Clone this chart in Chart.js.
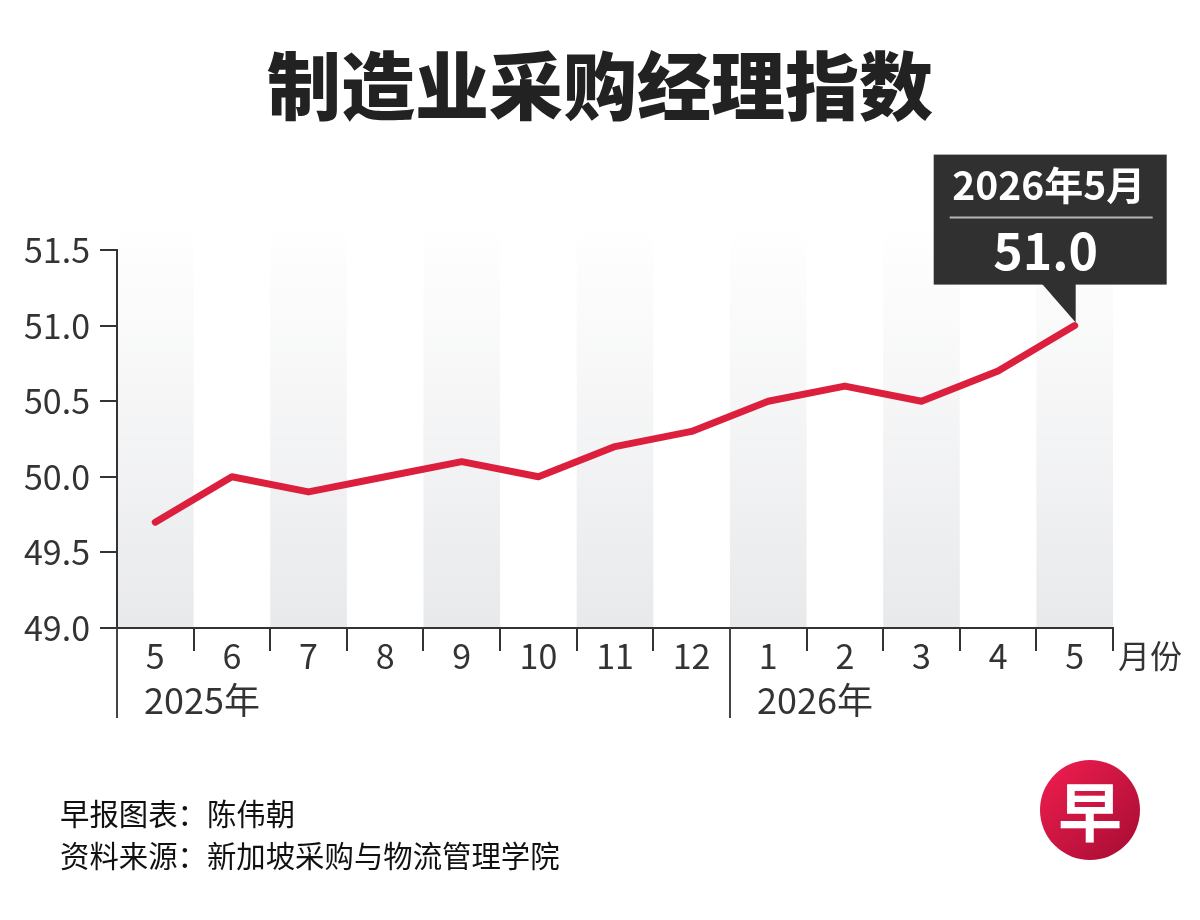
<!DOCTYPE html>
<html lang="zh">
<head>
<meta charset="utf-8">
<title>制造业采购经理指数</title>
<script src="https://cdn.jsdelivr.net/npm/chart.js@4.4.1/dist/chart.umd.min.js"></script>
<style>
  html, body { margin: 0; padding: 0; background: #fff; }
  #chart { display: block; }
</style>
</head>
<body>
<canvas id="chart" width="1200" height="920"></canvas>
<script>
const months = ['5', '6', '7', '8', '9', '10', '11', '12', '1', '2', '3', '4', '5'];
const pmi = [49.7, 50.0, 49.9, 50.0, 50.1, 50.0, 50.2, 50.3, 50.5, 50.6, 50.5, 50.7, 51.0];
const yearLabels = ['2025年', '2026年'];
const yearStarts = [0, 8];
const yTicks = [49.0, 49.5, 50.0, 50.5, 51.0, 51.5];
const calloutTitle = '2026年5月';
const title = '制造业采购经理指数';
const footer = ['早报图表：陈伟朝', '资料来源：新加坡采购与物流管理学院'];

const FONT = '"Noto Sans CJK SC", "Noto Sans", sans-serif';
const INK = '#333';

// columns, long year lines, texts, callout and logo
const decor = {
  id: 'decor',
  beforeDraw(chart) {
    const { ctx, chartArea: a, scales: { x } } = chart;
    const w = x.getPixelForValue(1) - x.getPixelForValue(0);
    const top = a.top - 28;
    const g = ctx.createLinearGradient(0, top, 0, a.bottom);
    g.addColorStop(0, 'rgba(234,235,237,0)');
    g.addColorStop(1, '#e8e9eb');
    ctx.save();
    ctx.fillStyle = g;
    months.forEach((m, i) => {
      if (i % 2) return;
      const cx = x.getPixelForValue(i);
      ctx.fillRect(cx - w / 2, top, w, a.bottom - top);
    });
    ctx.restore();
  },
  afterDatasetsDraw(chart) {
    const { ctx } = chart;
    const p = chart.getDatasetMeta(0).data[pmi.length - 1];
    const bw = 233, bh = 130;
    const bx = p.x - 141, by = p.y - 171;
    ctx.save();
    ctx.fillStyle = '#303030';
    ctx.fillRect(bx, by, bw, bh);
    ctx.beginPath();
    ctx.moveTo(p.x - 33, by + bh - 1);
    ctx.lineTo(p.x + 1, by + bh - 1);
    ctx.lineTo(p.x + 1, p.y - 3);
    ctx.closePath();
    ctx.fill();
    ctx.fillStyle = '#fff';
    ctx.textAlign = 'center';
    ctx.textBaseline = 'middle';
    ctx.font = `bold 39px ${FONT}`;
    ctx.fillText(calloutTitle, bx + 115, by + 31);
    ctx.strokeStyle = '#b5b5b5';
    ctx.lineWidth = 2;
    ctx.beginPath();
    ctx.moveTo(bx + 16, by + 63);
    ctx.lineTo(bx + bw - 14, by + 63);
    ctx.stroke();
    ctx.font = `bold 50px ${FONT}`;
    ctx.fillText(pmi[pmi.length - 1].toFixed(1), bx + 112, by + 96);
    ctx.restore();
  },
  afterDraw(chart) {
    const { ctx, chartArea: a, scales: { x } } = chart;
    const w = x.getPixelForValue(1) - x.getPixelForValue(0);
    ctx.save();
    // year separators and labels
    ctx.strokeStyle = '#444';
    ctx.lineWidth = 2;
    ctx.fillStyle = INK;
    ctx.font = `36px ${FONT}`;
    ctx.textAlign = 'left';
    ctx.textBaseline = 'middle';
    yearStarts.forEach((s, k) => {
      const lx = Math.round(x.getPixelForValue(s) - w / 2);
      ctx.beginPath();
      ctx.moveTo(lx, a.bottom);
      ctx.lineTo(lx, 718);
      ctx.stroke();
      ctx.fillText(yearLabels[k], lx + 27, 700);
    });
    ctx.font = `32px ${FONT}`;
    ctx.fillText('月份', a.right + 5, 656);

    // title
    ctx.textAlign = 'center';
    ctx.fillStyle = '#222';
    ctx.font = `900 74px ${FONT}`;
    ctx.fillText(title, 600, 86);

    // footer
    ctx.textAlign = 'left';
    ctx.fillStyle = '#111';
    ctx.font = `29.4px ${FONT}`;
    ctx.fillText(footer[0], 60, 814);
    ctx.fillText(footer[1], 60, 856);

    // logo
    const lg = ctx.createLinearGradient(1045, 765, 1135, 855);
    lg.addColorStop(0, '#ee1d4e');
    lg.addColorStop(1, '#a80d34');
    ctx.fillStyle = lg;
    ctx.beginPath();
    ctx.arc(1090, 810, 50, 0, Math.PI * 2);
    ctx.fill();
    ctx.fillStyle = '#fff';
    ctx.textAlign = 'center';
    ctx.font = `bold 64px ${FONT}`;
    ctx.fillText('早', 1090, 812);
    ctx.restore();
  }
};

new Chart(document.getElementById('chart'), {
  type: 'line',
  data: {
    labels: months,
    datasets: [{
      data: pmi,
      borderColor: '#dc1f3d',
      borderWidth: 7,
      borderCapStyle: 'round',
      borderJoinStyle: 'round',
      pointRadius: 0,
      tension: 0,
      fill: false,
      clip: false
    }]
  },
  options: {
    responsive: false,
    animation: false,
    layout: { padding: { top: 250, right: 87, bottom: 0, left: 0 } },
    plugins: {
      legend: { display: false },
      title: { display: false },
      tooltip: { enabled: false }
    },
    scales: {
      x: {
        offset: true,
        grid: { drawOnChartArea: false, tickLength: 23, color: INK, lineWidth: 2, offset: true },
        border: { color: INK, width: 2 },
        ticks: { color: INK, font: { family: FONT, size: 34 }, padding: -15, maxRotation: 0, autoSkip: false },
        afterFit(s) { s.height = 292; }
      },
      y: {
        min: 49,
        max: 51.5,
        afterBuildTicks(s) { s.ticks = yTicks.map(v => ({ value: v })); },
        grid: { drawOnChartArea: false, tickLength: 17, color: INK, lineWidth: 2 },
        border: { color: INK, width: 2 },
        ticks: { color: INK, font: { family: FONT, size: 34 }, padding: 10, callback: v => v.toFixed(1) },
        afterFit(s) { s.width = 117; }
      }
    }
  },
  plugins: [decor]
});
</script>
</body>
</html>
